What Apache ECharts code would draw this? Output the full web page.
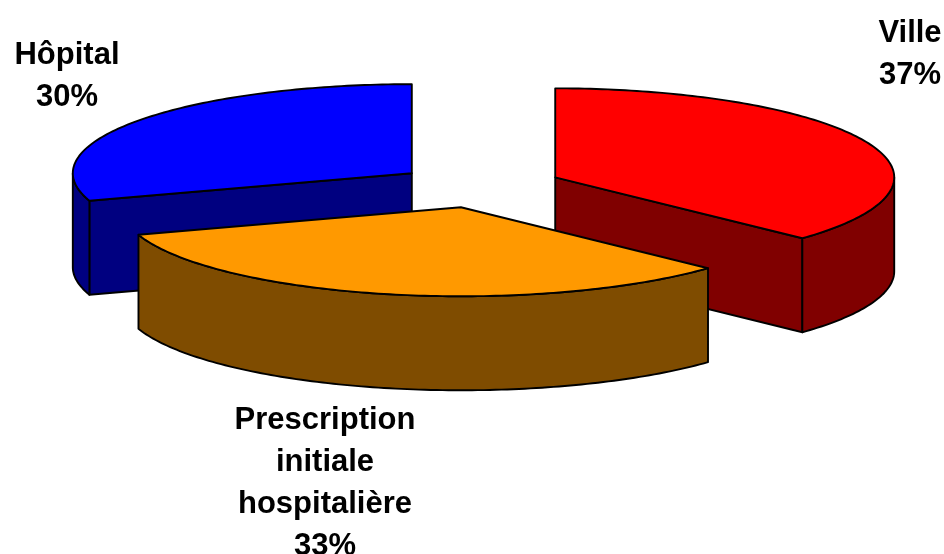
<!DOCTYPE html>
<html>
<head>
<meta charset="utf-8">
<script src="https://cdn.jsdelivr.net/npm/echarts@6/dist/echarts.min.js"></script>
<style>
  html, body { margin: 0; padding: 0; background: #ffffff; }
  #chart { width: 944px; height: 554px; }
</style>
</head>
<body>
<div id="chart"></div>
<script>
// Slice data
const categories = ['Ville', 'Prescription\ninitiale\nhospitalière', 'Hôpital'];
const shares = [37, 33, 30];

// Styles
const topColors = ['#FF0000', '#FF9900', '#0000FF'];
const sideColors = ['#800000', '#7F4C00', '#000080'];
const labelAnchors = [[910, 54], [325, 483], [67, 76]];

// Pie geometry (tilted ellipse, px)
const CX = 479, CY = 186, RX = 339, RY = 89, DEPTH = 94, EXPLODE = 0.245;

const total = shares.reduce((s, v) => s + v, 0);
const starts = [];
shares.reduce((acc, v) => { starts.push(acc); return acc + v; }, 0);

function pt(cx, cy, ang, dy) {
  return [cx + RX * Math.sin(ang), cy - RY * Math.cos(ang) + (dy || 0)];
}
function arc(cx, cy, a, b, dy) {
  const n = Math.max(2, Math.ceil((b - a) / (Math.PI / 180)));
  const pts = [];
  for (let i = 0; i <= n; i++) pts.push(pt(cx, cy, a + (b - a) * i / n, dy));
  return pts;
}

const edge = { stroke: '#000000', lineWidth: 1.9, lineJoin: 'round' };

function renderSlice(params, api) {
  const i = params.dataIndex;
  const v = api.value(1);
  const a = starts[i] / total * Math.PI * 2;
  const b = a + v / total * Math.PI * 2;
  const mid = (a + b) / 2;
  const cx = CX + EXPLODE * RX * Math.sin(mid);
  const cy = CY - EXPLODE * RY * Math.cos(mid);
  const depthZ = Math.round(cy * 10);
  const children = [];

  const radialFace = (ang) => {
    const p = pt(cx, cy, ang);
    return {
      type: 'polygon', z2: depthZ,
      shape: { points: [[cx, cy], p, [p[0], p[1] + DEPTH], [cx, cy + DEPTH]] },
      style: Object.assign({ fill: sideColors[i] }, edge)
    };
  };
  // cut faces turned toward the viewer
  if (Math.cos(a - Math.PI / 2) < -1e-6) children.push(radialFace(a));
  if (Math.cos(b + Math.PI / 2) < -1e-6) children.push(radialFace(b));

  // front part of the outer wall
  const ws = Math.max(a, Math.PI / 2), we = Math.min(b, Math.PI * 1.5);
  if (we > ws) {
    const topArc = arc(cx, cy, ws, we, 0);
    const botArc = arc(cx, cy, ws, we, DEPTH).reverse();
    children.push({
      type: 'polygon', z2: depthZ + 1,
      shape: { points: topArc.concat(botArc) },
      style: Object.assign({ fill: sideColors[i] }, edge)
    });
  }

  // top face
  children.push({
    type: 'polygon', z2: depthZ + 2,
    shape: { points: [[cx, cy]].concat(arc(cx, cy, a, b, 0)) },
    style: Object.assign({ fill: topColors[i] }, edge)
  });

  // label: name + percentage
  children.push({
    type: 'text', z2: 50000,
    x: labelAnchors[i][0], y: labelAnchors[i][1],
    style: {
      text: categories[i] + '\n' + Math.round(v / total * 100) + '%',
      fill: '#000000',
      fontFamily: '"Liberation Sans", Arial, sans-serif',
      fontWeight: 'bold',
      fontSize: 31,
      lineHeight: 42,
      align: 'center',
      verticalAlign: 'middle'
    }
  });

  return { type: 'group', children: children };
}

const chart = echarts.init(document.getElementById('chart'), null, { renderer: 'canvas' });
chart.setOption({
  animation: false,
  backgroundColor: '#ffffff',
  series: [{
    type: 'custom',
    coordinateSystem: 'none',
    renderItem: renderSlice,
    data: shares.map((v, i) => [i, v])
  }]
});
</script>
</body>
</html>
